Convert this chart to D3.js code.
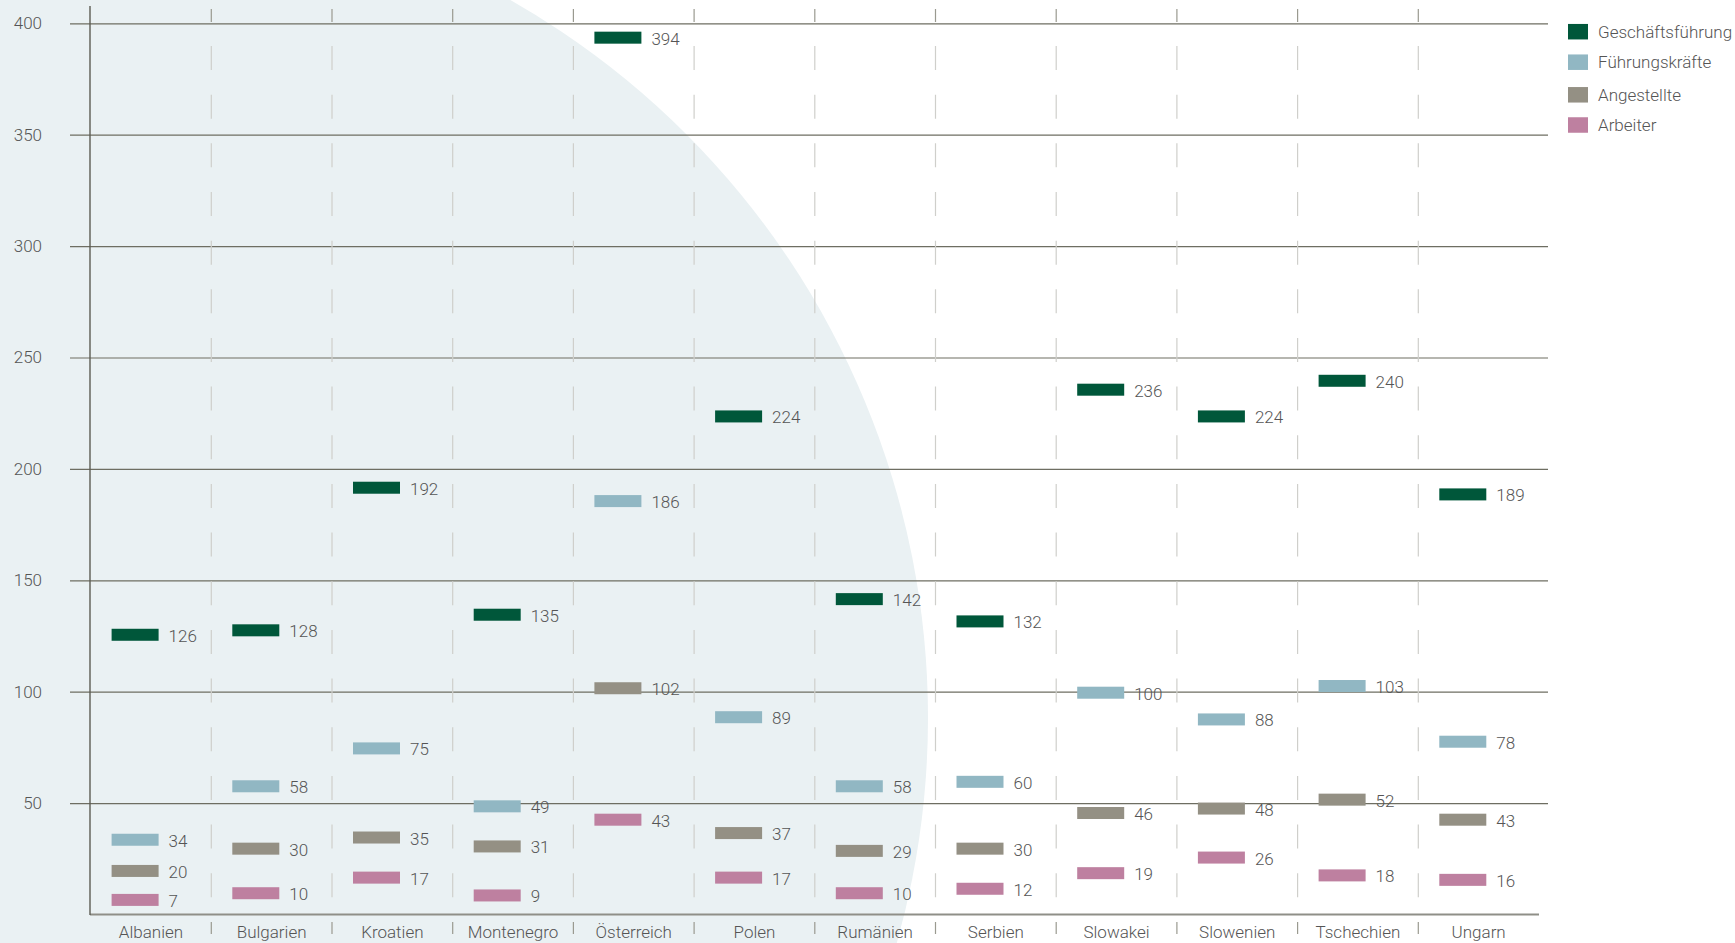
<!DOCTYPE html>
<html>
<head>
<meta charset="utf-8">
<script src="https://cdn.jsdelivr.net/npm/d3@7/dist/d3.min.js"></script>
<style>
  html, body { margin: 0; padding: 0; background: #ffffff; }
  svg { display: block; }
  text { font-family: Roboto, "Liberation Sans", Arial, sans-serif; font-weight: 300; fill: #555; }
</style>
</head>
<body>
<svg id="chart" width="1735" height="943"></svg>
<script>
const categories = ["Albanien", "Bulgarien", "Kroatien", "Montenegro", "Österreich", "Polen",
  "Rumänien", "Serbien", "Slowakei", "Slowenien", "Tschechien", "Ungarn"];
const seriesNames = ["Geschäftsführung", "Führungskräfte", "Angestellte", "Arbeiter"];
const geschaeftsfuehrung = [126, 128, 192, 135, 394, 224, 142, 132, 236, 224, 240, 189];
const fuehrungskraefte   = [34, 58, 75, 49, 186, 89, 58, 60, 100, 88, 103, 78];
const angestellte        = [20, 30, 35, 31, 102, 37, 29, 30, 46, 48, 52, 43];
const arbeiter           = [7, 10, 17, 9, 43, 17, 10, 12, 19, 26, 18, 16];
const yTicks = [50, 100, 150, 200, 250, 300, 350, 400];
const colors = ["#00573a", "#91b7c3", "#949084", "#be80a0"];

const seriesValues = [geschaeftsfuehrung, fuehrungskraefte, angestellte, arbeiter];

const svg = d3.select("#chart");
const FS = 17;

// background circle
svg.append("circle").attr("cx", 102).attr("cy", 718).attr("r", 826).attr("fill", "#eaf1f3");

const y = d3.scaleLinear().domain([0, 400]).range([914.5, 23.3]);
const x = d3.scaleBand().domain(categories).range([90.6, 1539]).padding(0);

// horizontal gridlines + y labels via axis
const yAxis = d3.axisLeft(y).tickValues(yTicks).tickSize(-(1548 - 70)).tickPadding(28);
const gy = svg.append("g").attr("transform", "translate(70,0)").call(yAxis);
gy.select(".domain").remove();
gy.selectAll(".tick line").attr("stroke", "#6e6e62").attr("stroke-width", 1.2);
gy.selectAll(".tick text").attr("font-size", FS).attr("fill", "#555")
  .style("font-family", 'Roboto, "Liberation Sans", Arial, sans-serif').style("font-weight", 300);

// vertical dividers
const dividers = categories.slice(1).map(c => x(c));
const dv = svg.append("g");
dv.selectAll("line.dash").data(dividers).enter().append("line")
  .attr("x1", d => d).attr("x2", d => d).attr("y1", 46).attr("y2", 898)
  .attr("stroke", "#cfcfcb").attr("stroke-width", 1.2).attr("stroke-dasharray", "24 24.66");
dv.selectAll("line.top").data(dividers).enter().append("line")
  .attr("x1", d => d).attr("x2", d => d).attr("y1", 9).attr("y2", 22)
  .attr("stroke", "#9a9a90").attr("stroke-width", 1.2);
dv.selectAll("line.bot").data(dividers).enter().append("line")
  .attr("x1", d => d).attr("x2", d => d).attr("y1", 922).attr("y2", 934)
  .attr("stroke", "#9a9a90").attr("stroke-width", 1.2);

// axes lines
svg.append("line").attr("x1", 90).attr("x2", 1539).attr("y1", y(0)).attr("y2", y(0))
  .attr("stroke", "#8f8f88").attr("stroke-width", 1.8);
svg.append("line").attr("x1", 90).attr("x2", 90).attr("y1", 6).attr("y2", y(0) + 0.5)
  .attr("stroke", "#5c5c52").attr("stroke-width", 1.4);

// category labels
svg.append("g").selectAll("text").data(categories).enter().append("text")
  .attr("x", d => x(d) + x.bandwidth() / 2).attr("y", 938)
  .attr("text-anchor", "middle").attr("font-size", FS).text(d => d);

// bars
const barOffset = 21, barW = 47, barH = 12;
seriesValues.forEach((vals, si) => {
  const g = svg.append("g");
  g.selectAll("rect").data(vals).enter().append("rect")
    .attr("x", (d, i) => x(categories[i]) + barOffset)
    .attr("y", d => y(d) + 1 - barH / 2)
    .attr("width", barW).attr("height", barH)
    .attr("fill", colors[si]);
  g.selectAll("text").data(vals).enter().append("text")
    .attr("x", (d, i) => x(categories[i]) + barOffset + barW + 10)
    .attr("y", d => y(d) + 2)
    .attr("dominant-baseline", "central")
    .attr("font-size", FS).text(d => d);
});

// legend
const legendY = [31.7, 62.2, 94.8, 125];
const lg = svg.append("g");
seriesNames.forEach((name, i) => {
  const cy = legendY[i];
  lg.append("rect").attr("x", 1568).attr("y", cy - 7.75).attr("width", 20).attr("height", 15.5)
    .attr("fill", colors[i]);
  lg.append("text").attr("x", 1598).attr("y", cy).attr("dominant-baseline", "central")
    .attr("font-size", FS).text(name);
});
</script>
</body>
</html>
